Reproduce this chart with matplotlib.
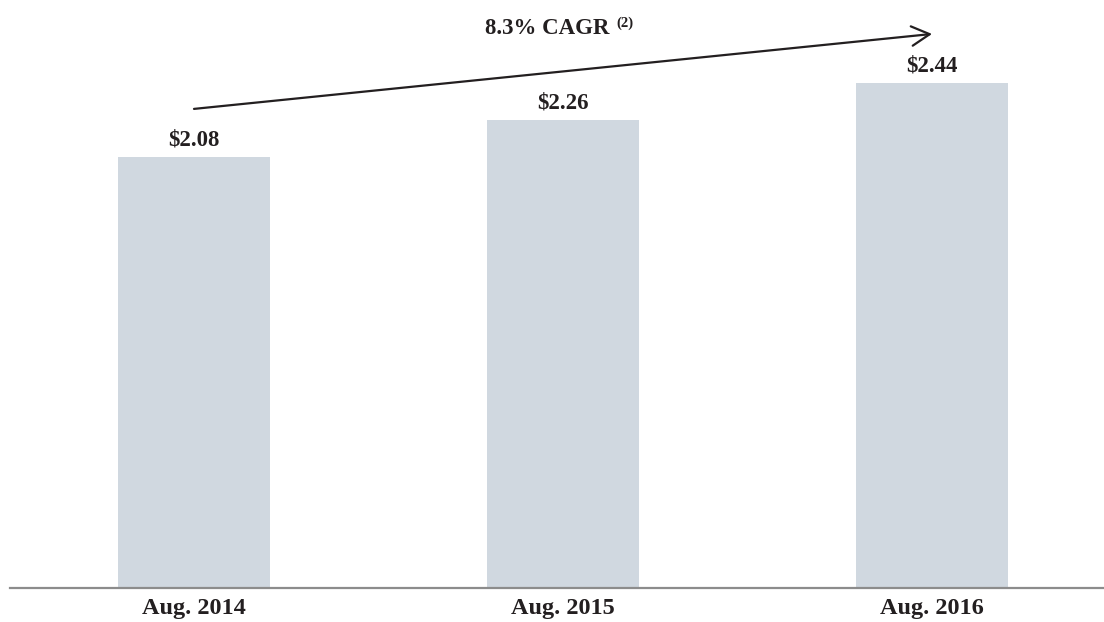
import matplotlib
matplotlib.use("Agg")
import matplotlib.pyplot as plt

# data
categories = ["Aug. 2014", "Aug. 2015", "Aug. 2016"]
values = [2.08, 2.26, 2.44]
value_labels = ["$2.08", "$2.26", "$2.44"]
cagr_text = "8.3% CAGR"
cagr_note = "(2)"

plt.rcParams['font.family'] = ['Liberation Serif', 'DejaVu Serif']
plt.rcParams['font.weight'] = 'bold'

fig = plt.figure(figsize=(11.04, 6.22), dpi=100)
ax = fig.add_axes([10 / 1104, 34 / 622, 1094 / 1104, 588 / 622])

x = list(range(len(categories)))
bars = ax.bar(x, values, width=0.412, color='#D0D8E0', zorder=2)

for xi, v, lab in zip(x, values, value_labels):
    ax.annotate(lab, (xi, v), xytext=(0, 8.5), textcoords='offset points',
                ha='center', va='baseline', fontsize=16.5, fontweight='bold',
                color='#231F20')

ax.set_xlim(-0.4986, 2.466)
ax.set_ylim(0, 2.84)
ax.set_xticks(x)
ax.set_xticklabels(categories, fontsize=17.5, fontweight='bold', color='#231F20')
ax.tick_params(axis='x', length=0, pad=7)
ax.set_yticks([])
for s in ['top', 'left', 'right']:
    ax.spines[s].set_visible(False)
ax.spines['bottom'].set_color('#8C8C8C')
ax.spines['bottom'].set_linewidth(1.6)

# CAGR arrow from first to last bar
ax.annotate('', xy=(2.0, 2.676), xytext=(0.0, 2.314),
            arrowprops=dict(arrowstyle='->,head_length=1.3,head_width=0.7',
                            color='#231F20', lw=1.6, shrinkA=0, shrinkB=0))

ax.text(1.125, 2.676, cagr_text, ha='right', va='baseline',
        fontsize=16.5, fontweight='bold', color='#231F20')
ax.text(1.145, 2.712, cagr_note, ha='left', va='baseline',
        fontsize=10.5, fontweight='bold', color='#231F20')

fig.savefig("out.png", dpi=100)
